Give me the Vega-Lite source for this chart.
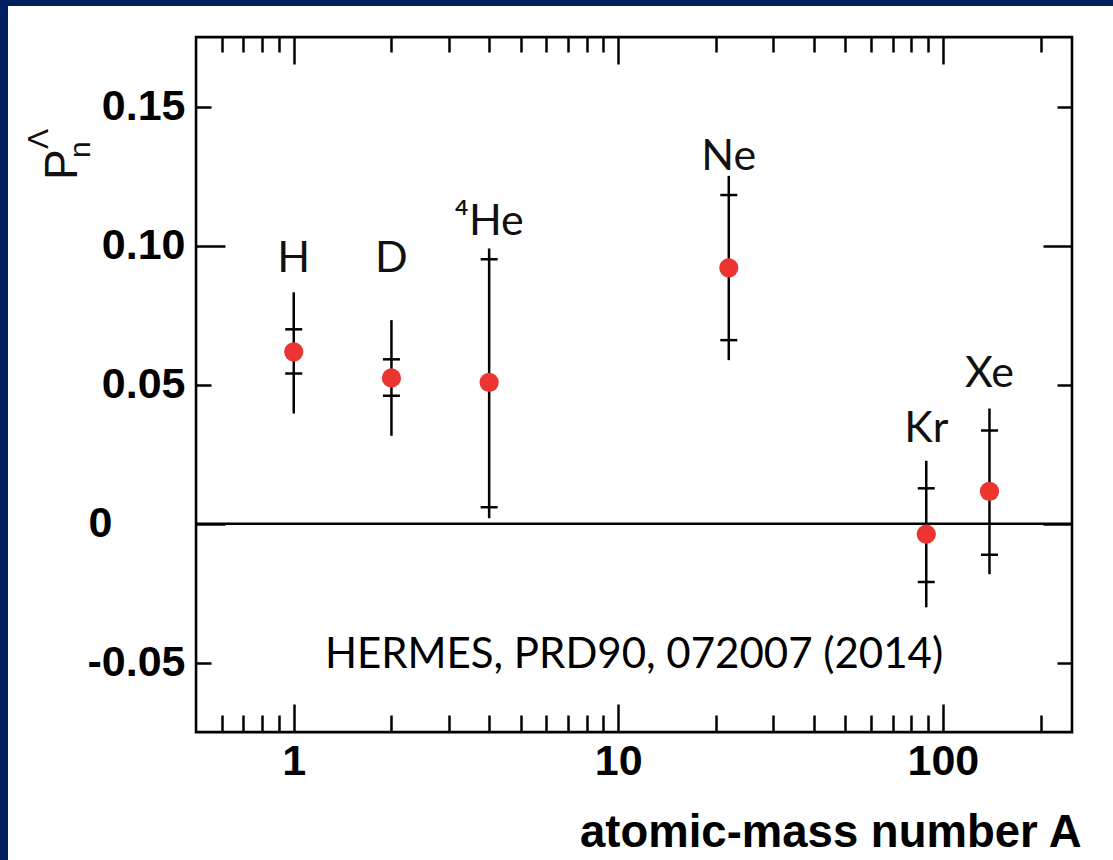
{
  "$schema": "https://vega.github.io/schema/vega-lite/v6.json",
  "width": 1105,
  "height": 854,
  "autosize": {"type": "none"},
  "padding": {"left": 8, "top": 6, "right": 0, "bottom": 0},
  "background": "#002060",
  "config": {
    "view": {"fill": "white", "stroke": null},
    "font": "Liberation Sans"
  },
  "data": {"values": [{}]},
  "datasets": {
    "nuclei": [
      {"target": "H", "label": "H", "A": 1, "P": 0.0618, "stat_lo": 0.054, "stat_hi": 0.0699, "tot_lo": 0.0396, "tot_hi": 0.0832, "label_y": 0.0905},
      {"target": "D", "label": "D", "A": 2, "P": 0.0524, "stat_lo": 0.046, "stat_hi": 0.0591, "tot_lo": 0.0316, "tot_hi": 0.0732, "label_y": 0.0905},
      {"target": "4He", "label": "⁴He", "A": 4, "P": 0.0508, "stat_lo": 0.0059, "stat_hi": 0.0951, "tot_lo": 0.0019, "tot_hi": 0.099, "label_y": 0.1038},
      {"target": "Ne", "label": "Ne", "A": 21.9, "P": 0.092, "stat_lo": 0.066, "stat_hi": 0.1182, "tot_lo": 0.0588, "tot_hi": 0.1251, "label_y": 0.1272},
      {"target": "Kr", "label": "Kr", "A": 88.9, "P": -0.0038, "stat_lo": -0.021, "stat_hi": 0.0127, "tot_lo": -0.0301, "tot_hi": 0.0226, "label_y": 0.0294},
      {"target": "Xe", "label": "Xe", "A": 139.2, "P": 0.0116, "stat_lo": -0.0112, "stat_hi": 0.0335, "tot_lo": -0.0182, "tot_hi": 0.0414, "label_y": 0.0492}
    ]
  },
  "resolve": {"axis": {"x": "independent", "y": "independent"}},
  "layer": [
    {
      "mark": {"type": "rect", "fill": null, "stroke": "black", "strokeWidth": 2.6},
      "encoding": {
        "x": {
          "datum": 0.5, "type": "quantitative",
          "scale": {"type": "log", "domain": [0.1317, 334.4], "nice": false},
          "axis": {
            "orient": "bottom", "offset": -128, "domain": false, "grid": false,
            "values": [0.6, 0.7, 0.8, 0.9, 1, 2, 3, 4, 5, 6, 7, 8, 9, 10, 20, 30, 40, 50, 60, 70, 80, 90, 100, 200],
            "tickSize": {"condition": {"test": "datum.value == 1 || datum.value == 10 || datum.value == 100", "value": -28}, "value": -17},
            "tickWidth": 2.5, "tickColor": "black",
            "labelExpr": "datum.value == 1 || datum.value == 10 || datum.value == 100 ? '' + datum.value : ''",
            "labelPadding": {"condition": {"test": "datum.value == 1 || datum.value == 10 || datum.value == 100", "value": 36}, "value": 25},
            "labelFont": "Liberation Sans", "labelFontWeight": "bold", "labelFontSize": 43, "labelColor": "black",
            "labelBaseline": "top", "labelAlign": "center", "labelOverlap": false, "labelFlush": false, "labelBound": false,
            "title": "atomic-mass number A", "titleFont": "Liberation Sans", "titleFontWeight": "bold", "titleFontSize": 45.5, "titleColor": "black",
            "titleX": 1073, "titleY": 114, "titleAlign": "right", "titleBaseline": "alphabetic"
          }
        },
        "x2": {"datum": 250},
        "y": {
          "datum": -0.075, "type": "quantitative",
          "scale": {"domain": [-0.121, 0.1862], "nice": false, "zero": false},
          "axis": {
            "orient": "left", "offset": -188, "domain": false, "grid": false,
            "values": [-0.05, 0, 0.05, 0.1, 0.15],
            "tickSize": {"condition": {"test": "datum.value == 0 || abs(datum.value - 0.1) < 1e-9", "value": -29}, "value": -15},
            "tickWidth": 2.5, "tickColor": "black",
            "labelExpr": "datum.value == 0 ? '0' : (datum.value < 0 ? '-' : '') + format(abs(datum.value), '.2f')",
            "labelAlign": {"condition": {"test": "datum.value == 0", "value": "center"}, "value": "right"},
            "labelPadding": {"condition": [{"test": "datum.value == 0", "value": 125}, {"test": "abs(datum.value - 0.1) < 1e-9", "value": 40}], "value": 26},
            "labelFont": "Liberation Sans", "labelFontWeight": "bold", "labelFontSize": 43, "labelColor": "black",
            "labelBaseline": "middle", "labelOverlap": false, "labelFlush": false, "labelBound": false,
            "title": null
          }
        },
        "y2": {"datum": 0.175}
      }
    },
    {
      "mark": {"type": "rule", "color": "black", "strokeWidth": 2.5},
      "encoding": {
        "x": {
          "datum": 0.5, "type": "quantitative",
          "axis": {
            "orient": "top", "offset": -31, "domain": false, "grid": false, "labels": false, "title": null,
            "values": [0.6, 0.7, 0.8, 0.9, 1, 2, 3, 4, 5, 6, 7, 8, 9, 10, 20, 30, 40, 50, 60, 70, 80, 90, 100, 200],
            "tickSize": {"condition": {"test": "datum.value == 1 || datum.value == 10 || datum.value == 100", "value": -27}, "value": -15},
            "tickWidth": 2.5, "tickColor": "black"
          }
        },
        "x2": {"datum": 250},
        "y": {
          "datum": 0, "type": "quantitative",
          "axis": {
            "orient": "right", "offset": -41, "domain": false, "grid": false, "labels": false, "title": null,
            "values": [-0.05, 0, 0.05, 0.1, 0.15],
            "tickSize": {"condition": {"test": "datum.value == 0 || abs(datum.value - 0.1) < 1e-9", "value": -29}, "value": -15},
            "tickWidth": 2.5, "tickColor": "black"
          }
        }
      }
    },
    {
      "data": {"name": "nuclei"},
      "mark": {"type": "rule", "color": "black", "strokeWidth": 2.5},
      "encoding": {
        "x": {"field": "A", "type": "quantitative", "axis": null},
        "y": {"field": "tot_lo", "type": "quantitative", "axis": null},
        "y2": {"field": "tot_hi"}
      }
    },
    {
      "data": {"name": "nuclei"},
      "mark": {"type": "tick", "orient": "horizontal", "color": "black", "size": 17, "thickness": 2.5, "opacity": 1},
      "encoding": {
        "x": {"field": "A", "type": "quantitative", "axis": null},
        "y": {"field": "stat_hi", "type": "quantitative", "axis": null}
      }
    },
    {
      "data": {"name": "nuclei"},
      "mark": {"type": "tick", "orient": "horizontal", "color": "black", "size": 17, "thickness": 2.5, "opacity": 1},
      "encoding": {
        "x": {"field": "A", "type": "quantitative", "axis": null},
        "y": {"field": "stat_lo", "type": "quantitative", "axis": null}
      }
    },
    {
      "data": {"name": "nuclei"},
      "mark": {"type": "circle", "color": "#EC3530", "size": 370, "opacity": 1},
      "encoding": {
        "x": {"field": "A", "type": "quantitative", "axis": null},
        "y": {"field": "P", "type": "quantitative", "axis": null}
      }
    },
    {
      "data": {"name": "nuclei"},
      "mark": {"type": "text", "font": "Lato", "fontSize": 43, "color": "#111111", "align": "center", "baseline": "alphabetic"},
      "encoding": {
        "x": {"field": "A", "type": "quantitative", "axis": null},
        "y": {"field": "label_y", "type": "quantitative", "axis": null},
        "text": {"field": "label"}
      }
    },
    {
      "mark": {"type": "text", "text": "HERMES, PRD90, 072007 (2014)", "font": "Lato", "fontSize": 42, "color": "black", "align": "center", "baseline": "alphabetic"},
      "encoding": {
        "x": {"datum": 11.18, "type": "quantitative", "axis": null},
        "y": {"datum": -0.052, "type": "quantitative", "axis": null}
      }
    },
    {
      "mark": {"type": "text", "text": "P", "font": "Liberation Sans", "fontSize": 46, "color": "#111111", "angle": -90, "align": "left", "baseline": "alphabetic"},
      "encoding": {
        "x": {"datum": 0.2149, "type": "quantitative", "axis": null},
        "y": {"datum": 0.1236, "type": "quantitative", "axis": null}
      }
    },
    {
      "mark": {"type": "text", "text": "n", "font": "Liberation Sans", "fontSize": 30, "color": "#111111", "angle": -90, "align": "left", "baseline": "alphabetic"},
      "encoding": {
        "x": {"datum": 0.2357, "type": "quantitative", "axis": null},
        "y": {"datum": 0.1315, "type": "quantitative", "axis": null}
      }
    },
    {
      "mark": {"type": "text", "text": "Λ", "font": "Liberation Sans", "fontSize": 30, "color": "#111111", "angle": -90, "align": "left", "baseline": "alphabetic"},
      "encoding": {
        "x": {"datum": 0.175, "type": "quantitative", "axis": null},
        "y": {"datum": 0.1348, "type": "quantitative", "axis": null}
      }
    }
  ]
}
